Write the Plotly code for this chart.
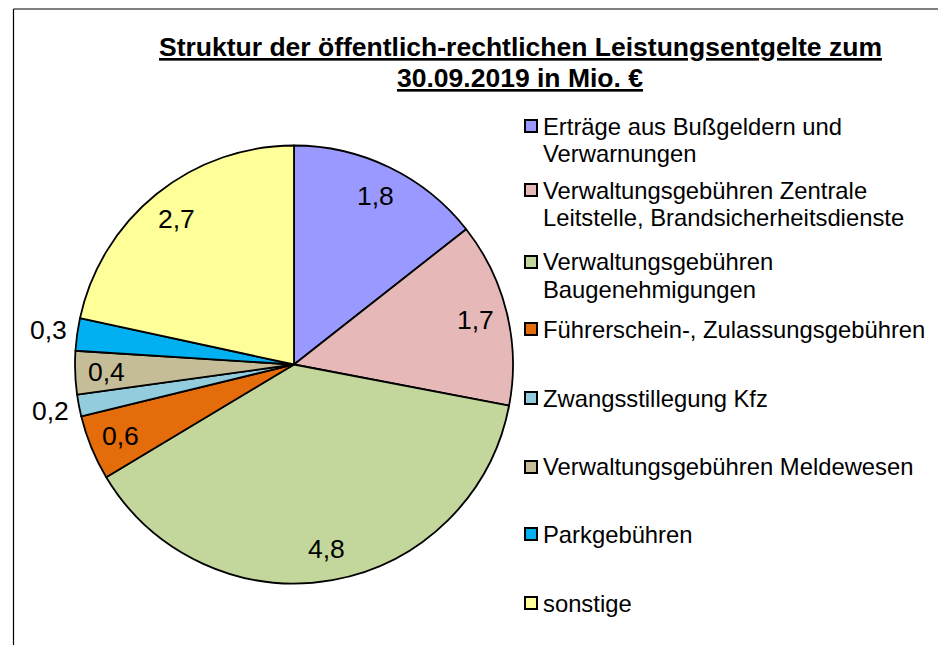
import math
import plotly.graph_objects as go

OFF = 8  # default page body margin in the browser
FW, FH = 946 - OFF, 645 - OFF  # figure fills the rest of the 946x645 window

categories = [
    "Erträge aus Bußgeldern und<br>Verwarnungen",
    "Verwaltungsgebühren Zentrale<br>Leitstelle, Brandsicherheitsdienste",
    "Verwaltungsgebühren<br>Baugenehmigungen",
    "Führerschein-, Zulassungsgebühren",
    "Zwangsstillegung Kfz",
    "Verwaltungsgebühren Meldewesen",
    "Parkgebühren",
    "sonstige",
]
values = [1.8, 1.7, 4.8, 0.6, 0.2, 0.4, 0.3, 2.7]
label_outside = [False, False, False, False, True, False, True, False]
colors = ["#9999FF", "#E6B9B8", "#C3D69B", "#E46C0A", "#93CDDD", "#C4BD97", "#00B0F0", "#FFFF99"]
title_lines = ["Struktur der öffentlich-rechtlichen Leistungsentgelte zum", "30.09.2019 in Mio. €"]

FONT = "Liberation Sans, Arial, sans-serif"


def fx(x):
    return (x - OFF) / FW


def fy(y):
    return 1 - (y - OFF) / FH


# pie geometry (screen pixels)
CX, CY, R = 294.0, 364.5, 219.0

fig = go.Figure()
fig.add_trace(go.Pie(
    labels=categories,
    values=values,
    sort=False,
    direction="clockwise",
    rotation=0,
    marker=dict(colors=colors, line=dict(color="black", width=1.8)),
    textinfo="none",
    hoverinfo="label+value",
    showlegend=False,
    domain=dict(x=[fx(CX - R), fx(CX + R)], y=[fy(CY + R), fy(CY - R)]),
))

annotations = []
total = sum(values)
cum = 0.0
for v, outside in zip(values, label_outside):
    mid = (cum + v / 2) / total * 2 * math.pi
    cum += v
    r = R * (1.132 if outside else 0.855)
    px = CX + r * math.sin(mid)
    py = CY - r * math.cos(mid)
    annotations.append(dict(
        x=fx(px), y=fy(py), xref="paper", yref="paper",
        text=f"{v:.1f}".replace(".", ","), showarrow=False,
        xanchor="center", yanchor="middle",
        font=dict(family=FONT, size=26.5, color="black"),
    ))

# title (one annotation per line for exact line spacing)
for line, yc in zip(title_lines, [46.5, 77.5]):
    annotations.append(dict(
        x=fx(520), y=fy(yc), xref="paper", yref="paper",
        text=line, showarrow=False, xanchor="center", yanchor="middle",
        font=dict(family=FONT, size=26.5, color="black", weight="bold", lineposition="under"),
    ))

# legend (manual, to match spacing of the reference)
legend_y = [126, 190, 262, 329, 398, 467, 534, 603]
LINE_GAP = 27
shapes = []
for cat, col, ly in zip(categories, colors, legend_y):
    for k, part in enumerate(cat.split("<br>")):
        annotations.append(dict(
            x=fx(541), y=fy(ly + k * LINE_GAP), xref="paper", yref="paper",
            text=part, showarrow=False, xanchor="left", yanchor="middle", align="left",
            font=dict(family=FONT, size=23.8, color="black"),
        ))
    shapes.append(dict(
        type="rect", xref="paper", yref="paper",
        x0=fx(525), x1=fx(537), y0=fy(ly + 6), y1=fy(ly - 6),
        fillcolor=col, line=dict(color="black", width=2),
    ))

# frame lines (left and top)
shapes.append(dict(type="line", xref="paper", yref="paper",
                   x0=fx(13.5), x1=fx(13.5), y0=0, y1=fy(9),
                   line=dict(color="black", width=1.2)))
shapes.append(dict(type="line", xref="paper", yref="paper",
                   x0=fx(13.5), x1=1, y0=fy(9), y1=fy(9),
                   line=dict(color="black", width=1.2)))

fig.update_layout(
    width=FW, height=FH,
    margin=dict(l=0, r=0, t=0, b=0),
    paper_bgcolor="white",
    plot_bgcolor="white",
    annotations=annotations,
    shapes=shapes,
)

fig.write_html("out.html")
